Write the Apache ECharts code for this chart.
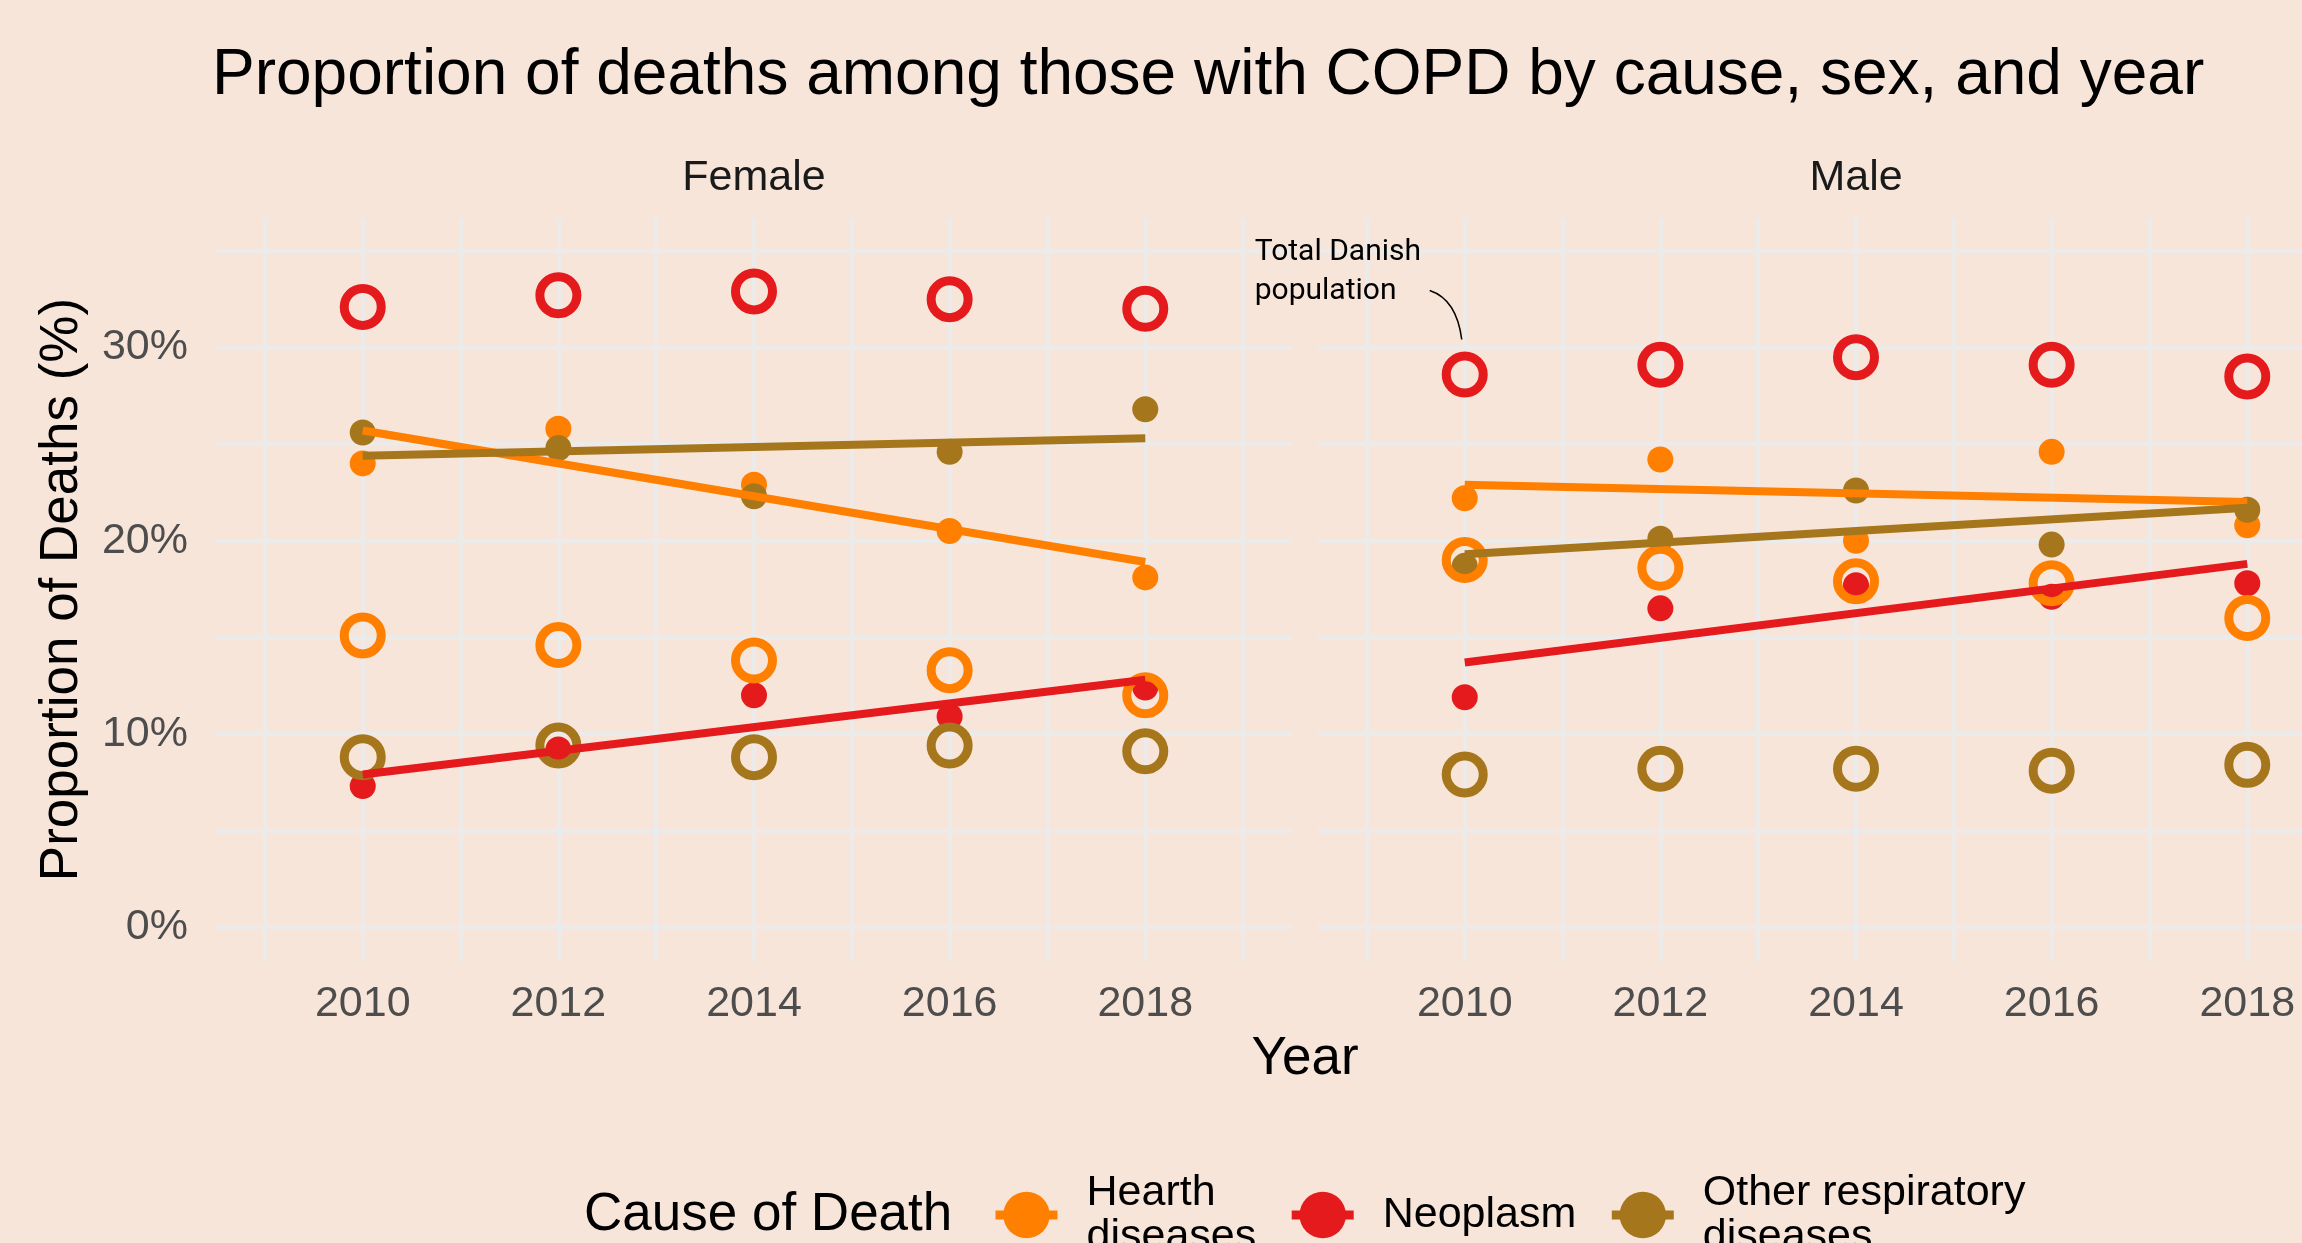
<!DOCTYPE html>
<html>
<head>
<meta charset="utf-8">
<script src="https://cdn.jsdelivr.net/npm/echarts@6/dist/echarts.min.js"></script>
<style>
html, body { margin: 0; padding: 0; background: #F8E5D9; }
#chart { width: 2302px; height: 1243px; }
</style>
</head>
<body>
<div id="chart"></div>
<script>
var years = [2010, 2012, 2014, 2016, 2018];
var trendYears = [2010, 2018];
var causes = ['Hearth diseases', 'Neoplasm', 'Other respiratory diseases'];
var sexes = ['Female', 'Male'];

// those with COPD (filled points)
var femaleCopdHearth = [24.0, 25.8, 22.9, 20.5, 18.1];
var femaleCopdNeoplasm = [7.3, 9.2, 12.0, 10.9, 12.4];
var femaleCopdOther = [25.6, 24.8, 22.3, 24.6, 26.8];
var maleCopdHearth = [22.2, 24.2, 20.0, 24.6, 20.8];
var maleCopdNeoplasm = [11.9, 16.5, 17.7, 17.1, 17.8];
var maleCopdOther = [18.7, 20.1, 22.6, 19.8, 21.6];

// total Danish population (open circles)
var femaleTotalHearth = [15.1, 14.6, 13.8, 13.3, 12.0];
var femaleTotalNeoplasm = [32.1, 32.7, 32.9, 32.5, 32.0];
var femaleTotalOther = [8.8, 9.4, 8.8, 9.4, 9.1];
var maleTotalHearth = [19.0, 18.6, 17.9, 17.8, 16.0];
var maleTotalNeoplasm = [28.6, 29.1, 29.5, 29.1, 28.5];
var maleTotalOther = [7.9, 8.2, 8.2, 8.1, 8.4];

// trend lines, value at 2010 and 2018
var femaleTrendHearth = [25.7, 18.9];
var femaleTrendNeoplasm = [7.9, 12.8];
var femaleTrendOther = [24.4, 25.3];
var maleTrendHearth = [22.9, 22.0];
var maleTrendNeoplasm = [13.7, 18.8];
var maleTrendOther = [19.3, 21.7];

var xLabelYears = [2010, 2012, 2014, 2016, 2018];
var xGridYears = [2009, 2010, 2011, 2012, 2013, 2014, 2015, 2016, 2017, 2018, 2019];
var yLabelValues = [0, 10, 20, 30];
var yGridValues = [0, 5, 10, 15, 20, 25, 30, 35];

var colors = ['#FF7F00', '#E41A1C', '#A6761D'];
var font = '"Liberation Sans", Arial, sans-serif';
var gridColor = '#EBEBEB';

var copd = [
    [femaleCopdHearth, femaleCopdNeoplasm, femaleCopdOther],
    [maleCopdHearth, maleCopdNeoplasm, maleCopdOther]
];
var total = [
    [femaleTotalHearth, femaleTotalNeoplasm, femaleTotalOther],
    [maleTotalHearth, maleTotalNeoplasm, maleTotalOther]
];
var trend = [
    [femaleTrendHearth, femaleTrendNeoplasm, femaleTrendOther],
    [maleTrendHearth, maleTrendNeoplasm, maleTrendOther]
];

function pairs(xs, ys) {
    return xs.map(function (x, i) { return [x, ys[i]]; });
}

var series = [];
// lines first, then filled points, then open circles on top
[0, 1].forEach(function (p) {
    causes.forEach(function (c, k) {
        series.push({
            name: c, type: 'line', xAxisIndex: p, yAxisIndex: p,
            data: pairs(trendYears, trend[p][k]),
            symbol: 'circle', showSymbol: false,
            itemStyle: { color: colors[k] },
            lineStyle: { color: colors[k], width: 8 }
        });
    });
});
[0, 1].forEach(function (p) {
    causes.forEach(function (c, k) {
        series.push({
            name: c, type: 'scatter', xAxisIndex: p, yAxisIndex: p,
            data: pairs(years, copd[p][k]),
            symbolSize: 26,
            itemStyle: { color: colors[k], opacity: 1 }
        });
    });
});
[0, 1].forEach(function (p) {
    causes.forEach(function (c, k) {
        series.push({
            name: c, type: 'scatter', xAxisIndex: p, yAxisIndex: p,
            data: pairs(years, total[p][k]),
            symbol: 'circle', symbolSize: 37,
            itemStyle: { color: 'rgba(0,0,0,0)', borderColor: colors[k], borderWidth: 9, opacity: 1 }
        });
    });
});

function xAxis(i) {
    return {
        type: 'value', gridIndex: i, min: 2008.5, max: 2019.5,
        axisLine: { show: false },
        axisTick: { show: false, customValues: xGridYears },
        axisLabel: {
            customValues: xLabelYears, margin: 22,
            formatter: function (v) { return String(v); },
            fontSize: 43, color: '#4D4D4D', fontFamily: font
        },
        splitLine: { show: true, lineStyle: { color: gridColor, width: 4 } }
    };
}
function yAxis(i) {
    return {
        type: 'value', gridIndex: i, min: -1.75, max: 36.7,
        axisLine: { show: false },
        axisTick: { show: false, customValues: yGridValues },
        axisLabel: {
            show: i === 0, customValues: yLabelValues, margin: 28,
            formatter: '{value}%',
            fontSize: 43, color: '#4D4D4D', fontFamily: font
        },
        splitLine: { show: true, lineStyle: { color: gridColor, width: 4 } }
    };
}

var chart = echarts.init(document.getElementById('chart'));
chart.setOption({
    animation: false,
    backgroundColor: '#F8E5D9',
    title: {
        text: 'Proportion of deaths among those with COPD by cause, sex, and year',
        left: 212, top: 44, padding: 0,
        textStyle: { fontSize: 64, fontWeight: 'normal', color: '#000', fontFamily: font }
    },
    grid: [
        { left: 216, top: 218, width: 1076, height: 743, outerBoundsMode: 'none' },
        { left: 1318, top: 218, width: 1076, height: 743, outerBoundsMode: 'none' }
    ],
    xAxis: [xAxis(0), xAxis(1)],
    yAxis: [yAxis(0), yAxis(1)],
    legend: {
        left: 991, top: 1171, padding: 0,
        itemWidth: 62, itemHeight: 58, itemGap: 31,
        data: causes,
        lineStyle: { width: 9 },
        formatter: function (name) { return name.replace(' diseases', '\ndiseases'); },
        textStyle: { fontSize: 43, lineHeight: 44, color: '#000', fontFamily: font, padding: [0, 0, 0, 24] }
    },
    series: series
});

// texts placed from the axes
var g0 = chart.getModel().getComponent('grid', 0).coordinateSystem.getRect();
var g1 = chart.getModel().getComponent('grid', 1).coordinateSystem.getRect();
var anchor = chart.convertToPixel({ xAxisIndex: 1, yAxisIndex: 1 }, [2010, maleTotalNeoplasm[0]]);

function label(text, x, y, size, color, align, extra) {
    var el = {
        type: 'text', x: x, y: y,
        style: {
            text: text, fill: color, font: size + 'px ' + font,
            textAlign: align, textVerticalAlign: 'middle'
        }
    };
    if (extra) Object.keys(extra).forEach(function (k) { el[k] = extra[k]; });
    return el;
}

chart.setOption({
    graphic: [
        label(sexes[0], g0.x + g0.width / 2, 178, 43, '#1A1A1A', 'center'),
        label(sexes[1], g1.x + g1.width / 2, 178, 43, '#1A1A1A', 'center'),
        label('Year', (g0.x + g1.x + g1.width) / 2, 1059, 53, '#000', 'center'),
        label('Proportion of Deaths (%)', 62, g0.y + g0.height / 2, 53, '#000', 'center', { rotation: Math.PI / 2 }),
        label('Cause of Death', 584, 1215, 53, '#000', 'left'),
        {
            type: 'text', x: anchor[0] - 210, y: anchor[1] - 103,
            style: {
                text: 'Total Danish\npopulation', fill: '#000',
                font: '30px Roboto, sans-serif', lineHeight: 39,
                textAlign: 'left', textVerticalAlign: 'middle'
            }
        },
        {
            type: 'bezierCurve',
            shape: {
                x1: anchor[0] - 35, y1: anchor[1] - 84,
                cpx1: anchor[0] - 8, cpy1: anchor[1] - 75,
                x2: anchor[0] - 3, y2: anchor[1] - 35
            },
            style: { stroke: '#000', lineWidth: 1.5, fill: null }
        }
    ]
});
</script>
</body>
</html>
